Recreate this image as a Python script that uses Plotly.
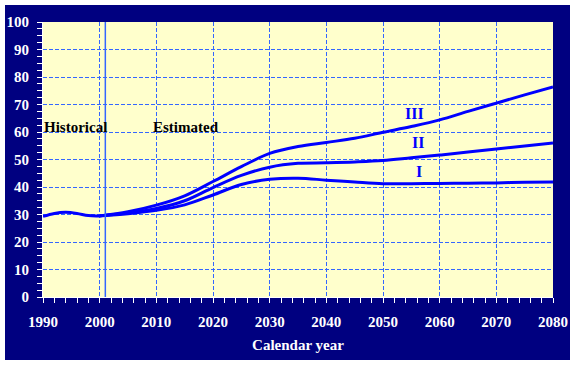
import plotly.graph_objects as go

hist_years = [1990, 1992, 1994, 1996, 1998, 2000]
hist_vals = [29.3, 30.4, 30.8, 30.4, 29.6, 29.5]

proj_years = [2000, 2005, 2010, 2015, 2020, 2025, 2030, 2035, 2040, 2045,
              2050, 2055, 2060, 2065, 2070, 2075, 2080]
alt_I = [29.5, 30.3, 31.5, 33.5, 37.1, 40.9, 42.8, 43.2, 42.5, 41.8,
         41.2, 41.2, 41.3, 41.4, 41.5, 41.7, 41.8]
alt_II = [29.5, 30.6, 32.2, 35.0, 39.8, 44.2, 47.2, 48.6, 48.8, 49.1,
          49.6, 50.6, 51.6, 52.7, 53.8, 54.9, 56.0]
alt_III = [29.5, 31.0, 33.4, 36.8, 42.0, 47.4, 52.2, 54.7, 56.2, 57.7,
           59.9, 62.0, 64.4, 67.5, 70.5, 73.5, 76.4]

series_names = ["I", "II", "III"]
label_pos = [(2056.4, 45.8), (2056.2, 56.1), (2055.5, 66.8)]
divider_year = 2001
text_labels = [("Historical", 1990.3, 61.9), ("Estimated", 2009.6, 61.9)]

BLUE = "#0000FF"
NAVY = "#000080"
GRID = "#3366FF"
YELLOW = "#FFFFCC"
FONT = "Liberation Serif"

fig = go.Figure()
fig.add_trace(go.Scatter(x=hist_years, y=hist_vals, mode="lines",
                         line=dict(color=BLUE, width=3, shape="spline"),
                         showlegend=False))
for vals in (alt_I, alt_II, alt_III):
    fig.add_trace(go.Scatter(x=proj_years, y=vals, mode="lines",
                             line=dict(color=BLUE, width=3, shape="spline"),
                             showlegend=False))

for name, (lx, ly) in zip(series_names, label_pos):
    fig.add_annotation(x=lx, y=ly, text="<b>%s</b>" % name, showarrow=False,
                       font=dict(family=FONT, size=16, color=BLUE))
for txt, tx, ty in text_labels:
    fig.add_annotation(x=tx, y=ty, text="<b>%s</b>" % txt, showarrow=False,
                       xanchor="left", xshift=-3,
                       font=dict(family=FONT, size=15, color="black"))

# navy frame and yellow plot background (shapes below the grid)
fig.add_shape(type="rect", xref="paper", yref="paper",
              x0=(5 - 43) / 510, x1=(570 - 43) / 510,
              y0=(297 - 360) / 275, y1=(297 - 5) / 275,
              fillcolor=NAVY, line=dict(width=0), layer="below")
fig.add_shape(type="rect", xref="paper", yref="paper", x0=0, x1=1, y0=0, y1=1,
              fillcolor=YELLOW, line=dict(width=0), layer="below")
fig.add_shape(type="line", xref="x", yref="paper", x0=divider_year, x1=divider_year,
              y0=0, y1=1, line=dict(color=GRID, width=1.5), layer="above")

fig.update_xaxes(range=[1990, 2080], dtick=10, tick0=1990, automargin=False,
                 showgrid=True, gridcolor=GRID, griddash="4px,2px", gridwidth=1,
                 ticks="outside", ticklen=5, tickcolor="white", tickwidth=1,
                 minor=dict(dtick=2, ticks="outside", ticklen=5, tickcolor="white", showgrid=False),
                 showline=True, linecolor="white", linewidth=1,
                 zeroline=False,
                 tickfont=dict(family=FONT, size=15, color="white", weight="bold"),
                 ticklabelstandoff=6,
                 title=dict(text="<b>Calendar year</b>", standoff=10,
                            font=dict(family=FONT, size=15, color="white")))
fig.update_yaxes(range=[0, 100], dtick=10, tick0=0, automargin=False,
                 showgrid=True, gridcolor=GRID, griddash="4px,2px", gridwidth=1,
                 ticks="outside", ticklen=5, tickcolor="white", tickwidth=1,
                 minor=dict(dtick=2.5, ticks="outside", ticklen=5, tickcolor="white", showgrid=False),
                 showline=True, linecolor="white", linewidth=1,
                 zeroline=False, ticklabelstandoff=5,
                 tickfont=dict(family=FONT, size=15, color="white", weight="bold"))

fig.update_layout(width=575, height=365,
                  margin=dict(l=43, r=22, t=22, b=68),
                  paper_bgcolor="white", plot_bgcolor=YELLOW,
                  showlegend=False)

fig.write_html("out.html", config={"displayModeBar": False},
               post_script="document.body.style.margin='0';")
